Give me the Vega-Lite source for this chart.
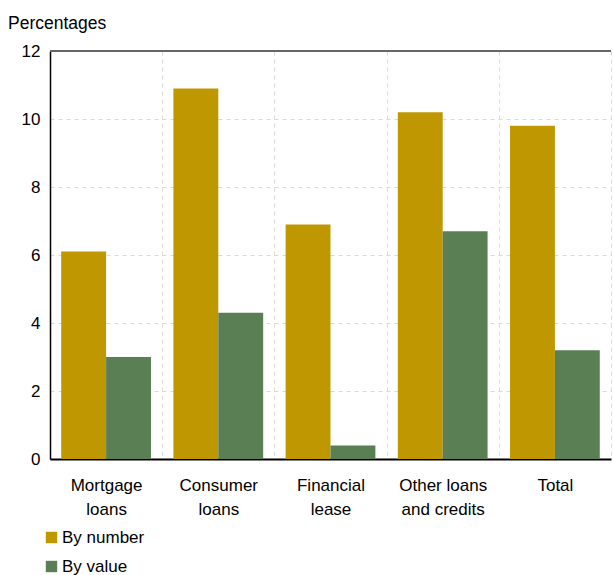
{
  "$schema": "https://vega.github.io/schema/vega-lite/v6.json",
  "autosize": {"type": "fit", "contains": "padding"},
  "width": 613,
  "height": 575,
  "padding": {"left": 8, "top": 14, "right": 1, "bottom": 0},
  "config": {
    "font": "Liberation Sans",
    "view": {"stroke": null},
    "axis": {"labelFont": "Liberation Sans", "labelFontSize": 17, "labelColor": "#000"},
    "legend": {"labelFont": "Liberation Sans", "labelFontSize": 17, "labelColor": "#000"}
  },
  "data": {
    "values": [
      {"cat": "Mortgage loans", "series": "By number", "value": 6.1},
      {"cat": "Mortgage loans", "series": "By value", "value": 3.0},
      {"cat": "Consumer loans", "series": "By number", "value": 10.9},
      {"cat": "Consumer loans", "series": "By value", "value": 4.3},
      {"cat": "Financial lease", "series": "By number", "value": 6.9},
      {"cat": "Financial lease", "series": "By value", "value": 0.4},
      {"cat": "Other loans and credits", "series": "By number", "value": 10.2},
      {"cat": "Other loans and credits", "series": "By value", "value": 6.7},
      {"cat": "Total", "series": "By number", "value": 9.8},
      {"cat": "Total", "series": "By value", "value": 3.2}
    ]
  },
  "title": {
    "text": "Percentages",
    "anchor": "start",
    "frame": "group",
    "offset": 10,
    "dx": -42,
    "fontSize": 17.5,
    "fontWeight": "normal",
    "font": "Liberation Sans",
    "color": "#000"
  },
  "layer": [
    {
      "mark": {"type": "bar"},
      "encoding": {
        "x": {
          "field": "cat",
          "type": "nominal",
          "sort": null,
          "title": null,
          "scale": {"paddingInner": 0, "paddingOuter": 0},
          "axis": {
            "labelAngle": 0,
            "labelExpr": "datum.value == 'Mortgage loans' ? ['Mortgage','loans'] : datum.value == 'Consumer loans' ? ['Consumer','loans'] : datum.value == 'Financial lease' ? ['Financial','lease'] : datum.value == 'Other loans and credits' ? ['Other loans','and credits'] : datum.value",
            "labelLineHeight": 24,
            "labelPadding": 18,
            "ticks": false,
            "tickBand": "extent",
            "grid": true,
            "gridColor": "#d9d9d9",
            "gridDash": [4, 4],
            "domainColor": "#000",
            "domainWidth": 2
          }
        },
        "xOffset": {
          "field": "series",
          "type": "nominal",
          "scale": {"paddingInner": 0, "paddingOuter": 0.25}
        },
        "y": {
          "field": "value",
          "type": "quantitative",
          "title": null,
          "scale": {"domain": [0, 12]},
          "axis": {
            "values": [0, 2, 4, 6, 8, 10, 12],
            "ticks": false,
            "labelPadding": 10,
            "grid": true,
            "gridColor": "#d9d9d9",
            "gridDash": [4, 4],
            "domainColor": "#000",
            "domainWidth": 1.5
          }
        },
        "color": {
          "field": "series",
          "type": "nominal",
          "title": null,
          "scale": {"domain": ["By number", "By value"], "range": ["#BF9700", "#5A7F55"]},
          "legend": {
            "orient": "bottom",
            "direction": "vertical",
            "symbolType": "square",
            "symbolSize": 130,
            "symbolStrokeWidth": 0,
            "symbolOffset": -7,
            "rowPadding": 11,
            "labelOffset": 2,
            "offset": 12
          }
        }
      }
    },
    {
      "mark": {"type": "rule", "color": "#666", "strokeWidth": 2},
      "encoding": {"y": {"datum": 12}}
    }
  ]
}
